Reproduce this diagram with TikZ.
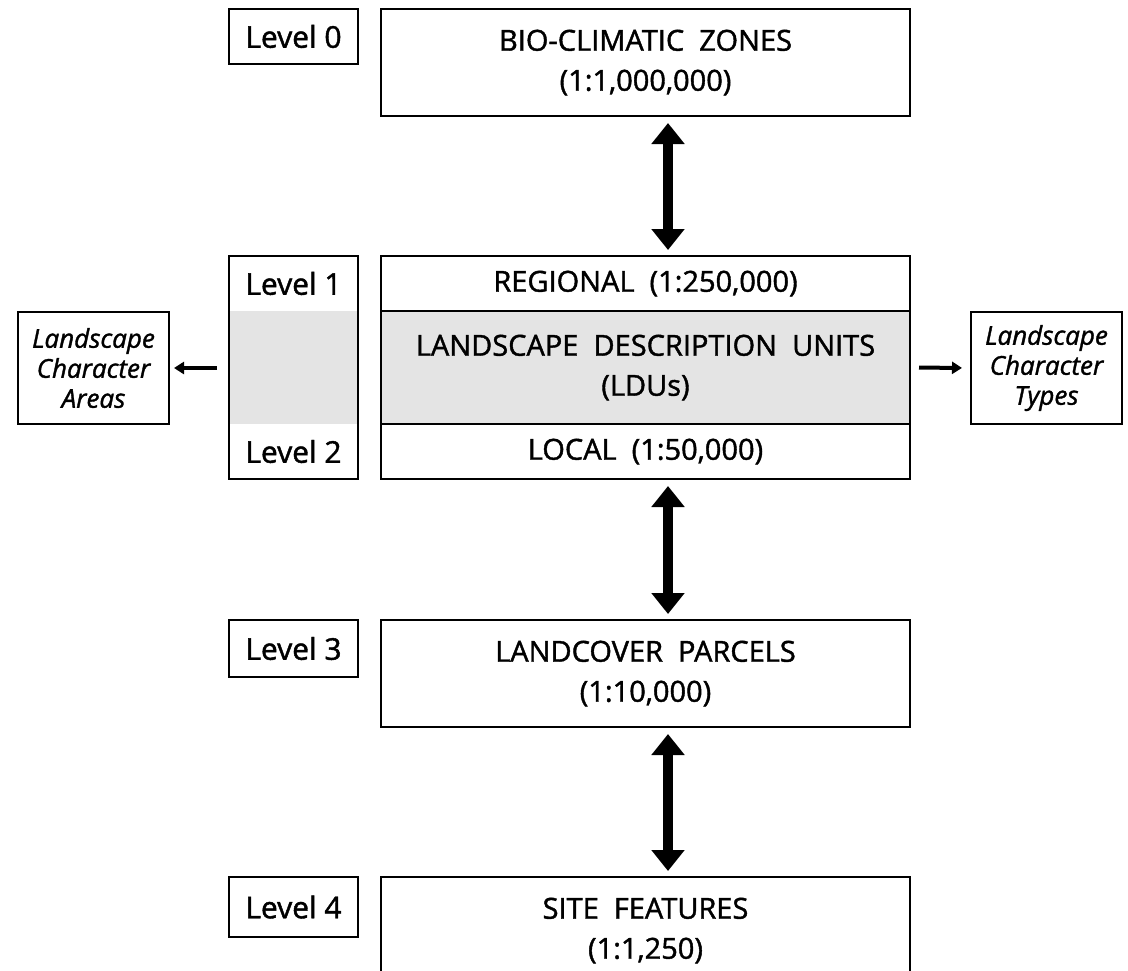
\documentclass[tikz,border=0pt]{standalone}
\usepackage{fontspec}
\setmainfont{Open Sans}[FakeBold=1.4]
\usetikzlibrary{positioning, calc, arrows.meta}

\definecolor{lddgray}{RGB}{228,228,228}
\tikzset{
    box/.style={draw, line width=2.5pt, outer sep=0pt, inner sep=0pt, minimum width=529pt, align=center, font=\fontsize{29}{40}\selectfont},
    lvlbox/.style={draw, line width=2.5pt, outer sep=0pt, inner sep=0pt, minimum width=129pt, font=\fontsize{30}{40}\selectfont},
    lvltext/.style={inner sep=0pt, font=\fontsize{30}{40}\selectfont},
    sidebox/.style={draw, line width=2.5pt, outer sep=0pt, inner sep=0pt, minimum width=151pt, minimum height=112pt, align=center, font=\fontsize{26}{30}\selectfont\itshape},
    bigarrow/.style={line width=10pt, {Triangle[width=32pt,length=21pt]}-{Triangle[width=32pt,length=21pt]}, shorten <=7pt, shorten >=6pt},
    smallarrow/.style={line width=4pt, -{Triangle[width=12pt,length=10pt]}},
}

\begin{document}
\begin{tikzpicture}[x=1pt, y=-1pt]
    \useasboundingbox[fill=white] (0,0) rectangle (1128,970);

    \node[lvlbox, minimum height=55pt, anchor=north west] (lvl0) at (229,9) {Level 0};
    \node[box, minimum height=107pt, anchor=north west] (bio) at (381,9) {BIO-CLIMATIC\ \ ZONES\\(1:1,000,000)};

    \node[box, minimum height=55pt, anchor=north west] (reg) at (381,256) {REGIONAL\ \ (1:250,000)};
    \node[box, fill=lddgray, minimum height=113pt, below=0pt of reg] (ldu) {LANDSCAPE\ \ DESCRIPTION\ \ UNITS\\(LDUs)};
    \node[box, minimum height=55pt, below=0pt of ldu] (loc) {LOCAL\ \ (1:50,000)};

    \fill[lddgray] (230,311) rectangle (358,424);
    \node[lvlbox, minimum height=223pt, anchor=north west] (lvlcol) at (229,256) {};
    \node[lvltext] (lvl1) at (lvlcol |- reg) {Level 1};
    \node[lvltext] (lvl2) at (lvlcol |- loc) {Level 2};

    \node[sidebox, anchor=north west] (lca) at (18,312) {Landscape\\Character\\Areas};
    \node[sidebox, anchor=north west] (lct) at (971,312) {Landscape\\Character\\Types};

    \node[lvlbox, minimum height=57pt, anchor=north west] (lvl3) at (229,620) {Level 3};
    \node[box, minimum height=107pt, anchor=north west] (parcels) at (381,620) {LANDCOVER\ \ PARCELS\\(1:10,000)};

    \node[lvlbox, minimum height=60pt, anchor=north west] (lvl4) at (229,877) {Level 4};
    \node[box, minimum height=107pt, anchor=north west] (site) at (381,877) {SITE\ \ FEATURES\\(1:1,250)};

    \draw[bigarrow] ([xshift=22.5pt]bio.south) -- ([xshift=22.5pt]reg.north);
    \draw[bigarrow] ([xshift=22.5pt]loc.south) -- ([xshift=22.5pt]parcels.north);
    \draw[bigarrow] ([xshift=22.5pt]parcels.south) -- ([xshift=22.5pt]site.north);

    \draw[smallarrow, shorten <=12pt, shorten >=5pt] (lvlcol.west |- lca) -- (lca.east);
    \draw[smallarrow, shorten <=9pt, shorten >=9pt] (ldu.east) -- (lct.west);
\end{tikzpicture}
\end{document}
